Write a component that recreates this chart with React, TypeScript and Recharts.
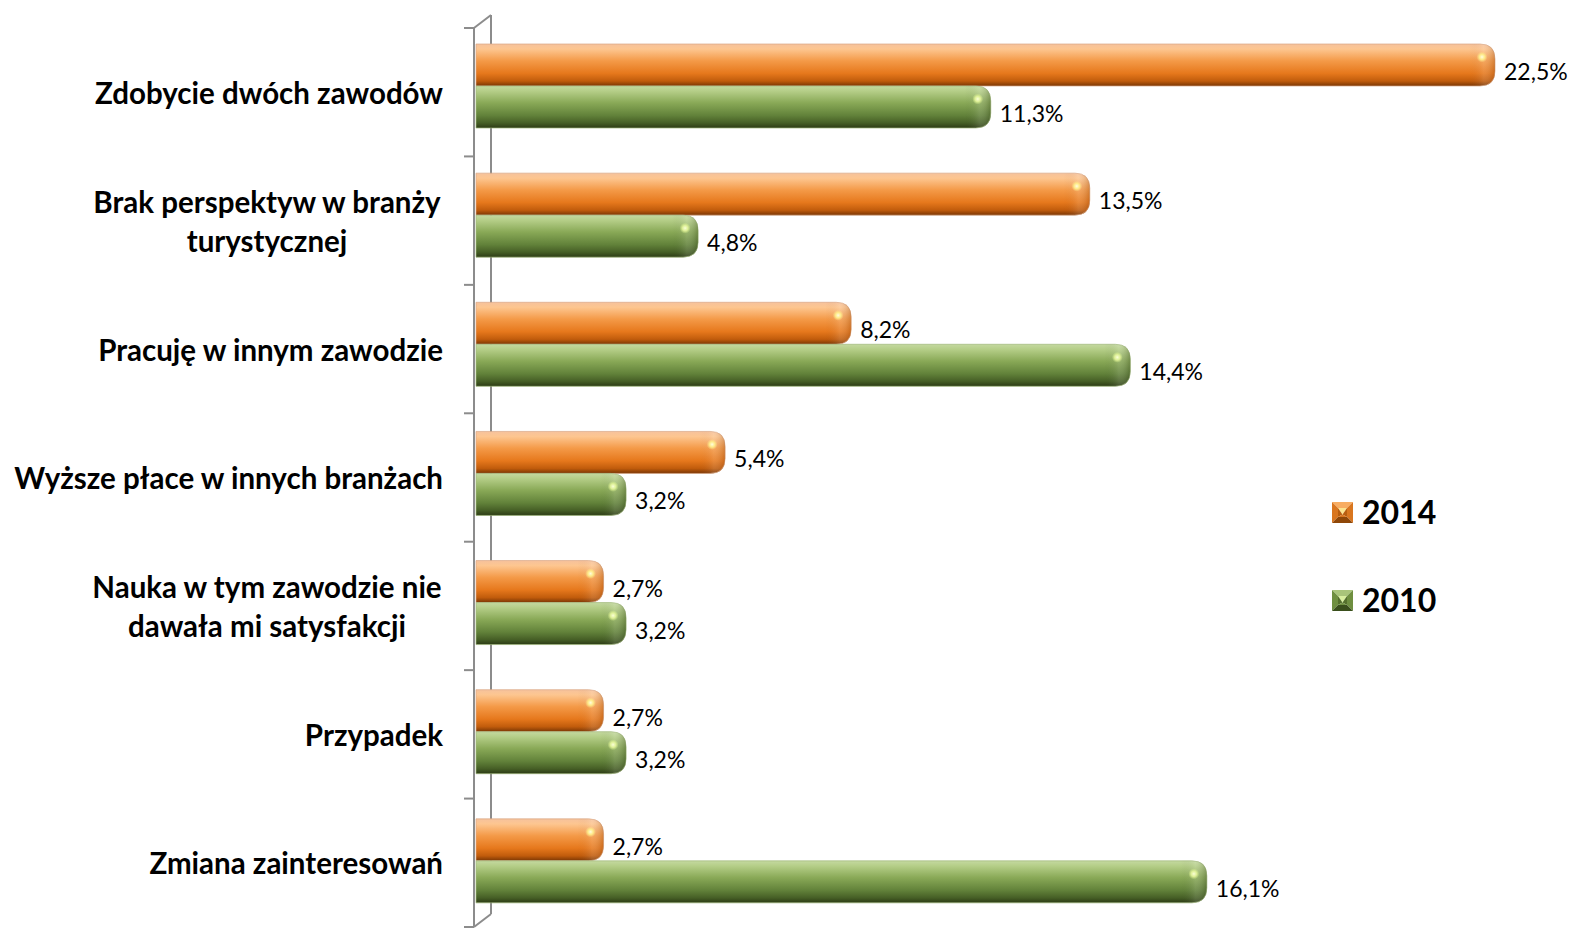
import React from 'react';
import { BarChart, Bar, XAxis, YAxis, LabelList, Customized } from 'recharts';

const categories = [
  'Zdobycie dwóch zawodów',
  'Brak perspektyw w branży|turystycznej',
  'Pracuję w innym zawodzie',
  'Wyższe płace w innych branżach',
  'Nauka w tym zawodzie nie|dawała mi satysfakcji',
  'Przypadek',
  'Zmiana zainteresowań',
];
const values2014 = [22.5, 13.5, 8.2, 5.4, 2.7, 2.7, 2.7];
const values2010 = [11.3, 4.8, 14.4, 3.2, 3.2, 3.2, 16.1];
const seriesNames = ['2014', '2010'];

const data = categories.map((name, i) => ({ name, v2014: values2014[i], v2010: values2010[i] }));

const W = 1574;
const H = 929;
const LEFT = 482;
const RIGHT = 79;
const TOP = 21;
const BOTTOM = 4;
const WALL_TOP = 28;
const WALL_BOTTOM = 927;
const WALL_X = 474;
const DEPTH_X = 17;
const DEPTH_Y = 13;
const BAND = (WALL_BOTTOM - WALL_TOP) / categories.length;
const FONT = 'Lato, "Open Sans", sans-serif';
const BAR_EXTEND = 6;

const fmt = (v: number) => v.toFixed(1).replace('.', ',') + '%';

const makeShape = (kind: 'o' | 'g') => (props: any) => {
  const { x, y, width, height, index } = props;
  const x0 = x - BAR_EXTEND;
  const w = width + BAR_EXTEND;
  const r = Math.min(15, height / 2, w);
  const x1 = x0 + w;
  const d = `M${x0},${y} L${x1 - r},${y} Q${x1},${y} ${x1},${y + r} L${x1},${y + height - r} Q${x1},${y + height} ${x1 - r},${y + height} L${x0},${y + height} Z`;
  const id = `cap-${kind}-${index}`;
  const dark = kind === 'o' ? '#8a3d04' : '#2c3b15';
  return (
    <g>
      <defs>
        <linearGradient id={id} gradientUnits="userSpaceOnUse" x1={x1 - 26} y1={0} x2={x1} y2={0}>
          <stop offset="0" stopColor={dark} stopOpacity={0} />
          <stop offset="0.55" stopColor="#fff" stopOpacity={0.12} />
          <stop offset="1" stopColor={dark} stopOpacity={0.3} />
        </linearGradient>
      </defs>
      <path d={d} fill={`url(#grad-${kind})`} stroke={kind === 'o' ? '#d9a784' : '#9fb77a'} strokeWidth={1} strokeOpacity={0.7} />
      <path d={d} fill={`url(#${id})`} />
      <ellipse cx={x1 - 13} cy={y + 13} rx={5.5} ry={5.5} fill={`url(#hl-${kind})`} />
    </g>
  );
};

const Defs = () => (
  <defs>
    <linearGradient id="grad-o" x1="0" y1="0" x2="0" y2="1">
      <stop offset="0" stopColor="#f6c29c" />
      <stop offset="0.12" stopColor="#fdc690" />
      <stop offset="0.4" stopColor="#f49a48" />
      <stop offset="0.7" stopColor="#e6781c" />
      <stop offset="0.88" stopColor="#c15c0c" />
      <stop offset="1" stopColor="#7a3604" />
    </linearGradient>
    <linearGradient id="grad-g" x1="0" y1="0" x2="0" y2="1">
      <stop offset="0" stopColor="#c4d9a0" />
      <stop offset="0.12" stopColor="#b5ce88" />
      <stop offset="0.4" stopColor="#89a957" />
      <stop offset="0.7" stopColor="#62823a" />
      <stop offset="0.88" stopColor="#465f26" />
      <stop offset="1" stopColor="#2c3b15" />
    </linearGradient>
    <radialGradient id="hl-o">
      <stop offset="0" stopColor="#fffde0" />
      <stop offset="0.5" stopColor="#fff08a" stopOpacity={0.9} />
      <stop offset="1" stopColor="#fce08a" stopOpacity={0} />
    </radialGradient>
    <radialGradient id="hl-g">
      <stop offset="0" stopColor="#faffd8" />
      <stop offset="0.5" stopColor="#e4f59a" stopOpacity={0.9} />
      <stop offset="1" stopColor="#d8f08a" stopOpacity={0} />
    </radialGradient>
  </defs>
);

const Wall = () => {
  const ticks = [];
  for (let i = 0; i <= categories.length; i++) {
    const ty = WALL_TOP + BAND * i;
    ticks.push(<line key={i} x1={WALL_X - 10} x2={WALL_X} y1={ty} y2={ty} stroke="#8c8c8c" strokeWidth={2} />);
  }
  return (
    <g>
      <Defs />
      <line x1={WALL_X} x2={WALL_X} y1={WALL_TOP} y2={WALL_BOTTOM} stroke="#8c8c8c" strokeWidth={2} />
      <line x1={WALL_X + DEPTH_X} x2={WALL_X + DEPTH_X} y1={WALL_TOP - DEPTH_Y} y2={WALL_BOTTOM - DEPTH_Y} stroke="#8c8c8c" strokeWidth={2} />
      <line x1={WALL_X} x2={WALL_X + DEPTH_X} y1={WALL_TOP} y2={WALL_TOP - DEPTH_Y} stroke="#8c8c8c" strokeWidth={2} />
      <line x1={WALL_X} x2={WALL_X + DEPTH_X} y1={WALL_BOTTOM} y2={WALL_BOTTOM - DEPTH_Y} stroke="#8c8c8c" strokeWidth={2} />
      {ticks}
    </g>
  );
};

const CatTick = (props: any) => {
  const { payload, index } = props;
  const lines = String(payload.value).split('|');
  const cy = WALL_TOP + BAND * (index + 0.5);
  const lh = 39;
  const start = cy - ((lines.length - 1) * lh) / 2;
  return (
    <g>
      {lines.map((l, i) => (
        <text key={i} x={443} y={start + i * lh} textAnchor={lines.length > 1 ? 'middle' : 'end'} dx={lines.length > 1 ? -176 : 0}
          dominantBaseline="central" fontFamily={FONT} fontWeight={700} fontSize={29.5} fill="#000">
          {l}
        </text>
      ))}
    </g>
  );
};

const ValueLabel = (props: any) => {
  const { x, y, width, height, value } = props;
  return (
    <text x={x + width + 9} y={y + height / 2 + 6} dominantBaseline="central" fontFamily={FONT} fontSize={23} fill="#000">
      {fmt(value)}
    </text>
  );
};

const LegendMarker = ({ kind }: { kind: 'o' | 'g' }) => {
  const c = kind === 'o'
    ? { top: '#f8ad62', side: '#d9761f', bottom: '#8f4708', center: '#fce38e', edge: '#b85e10' }
    : { top: '#a9c47a', side: '#6f8f40', bottom: '#3a4f1c', center: '#d8ee9e', edge: '#55702c' };
  const s = 21;
  const m = 6;
  return (
    <svg width={s} height={s} style={{ display: 'block' }}>
      <polygon points={`0,0 ${s},0 ${s - m},${m} ${m},${m}`} fill={c.top} />
      <polygon points={`0,0 ${m},${m} ${m},${s - m} 0,${s}`} fill={c.side} />
      <polygon points={`${s},0 ${s},${s} ${s - m},${s - m} ${s - m},${m}`} fill={c.side} />
      <polygon points={`0,${s} ${m},${s - m} ${s - m},${s - m} ${s},${s}`} fill={c.bottom} />
      <polygon points={`${m},${m} ${s - m},${m} ${s / 2},${s / 2 + 2}`} fill={c.center} />
      <polygon points={`${m},${m} ${s / 2},${s / 2 + 2} ${m},${s - m}`} fill={c.edge} />
      <polygon points={`${s - m},${m} ${s / 2},${s / 2 + 2} ${s - m},${s - m}`} fill={c.edge} />
      <polygon points={`${m},${s - m} ${s / 2},${s / 2 + 2} ${s - m},${s - m}`} fill={c.side} />
    </svg>
  );
};

const LegendBox = () => (
  <div style={{ position: 'absolute', left: 1332, top: 492, fontFamily: FONT }}>
    {seriesNames.map((n, i) => (
      <div key={n} style={{ display: 'flex', alignItems: 'center', height: 40, marginBottom: i === 0 ? 48 : 0 }}>
        <LegendMarker kind={i === 0 ? 'o' : 'g'} />
        <span style={{ marginLeft: 9, fontSize: 32, fontWeight: 700, color: '#000', lineHeight: '40px' }}>{n}</span>
      </div>
    ))}
  </div>
);

export default function App() {
  return (
    <div style={{ position: 'absolute', left: 0, top: 0, width: W, height: H, background: '#fff' }}>
      <BarChart width={W} height={H} data={data} layout="vertical"
        margin={{ top: TOP, right: RIGHT, bottom: BOTTOM, left: 0 }} barGap={0} barSize={42}>
        <Customized component={<Wall />} />
        <XAxis type="number" domain={[0, 22.5]} hide />
        <YAxis type="category" dataKey="name" width={LEFT} axisLine={false} tickLine={false} tick={<CatTick />} interval={0} />
        <Bar dataKey="v2014" name={seriesNames[0]} isAnimationActive={false} shape={makeShape('o')}>
          <LabelList dataKey="v2014" content={<ValueLabel />} />
        </Bar>
        <Bar dataKey="v2010" name={seriesNames[1]} isAnimationActive={false} shape={makeShape('g')}>
          <LabelList dataKey="v2010" content={<ValueLabel />} />
        </Bar>
      </BarChart>
      <LegendBox />
    </div>
  );
}
